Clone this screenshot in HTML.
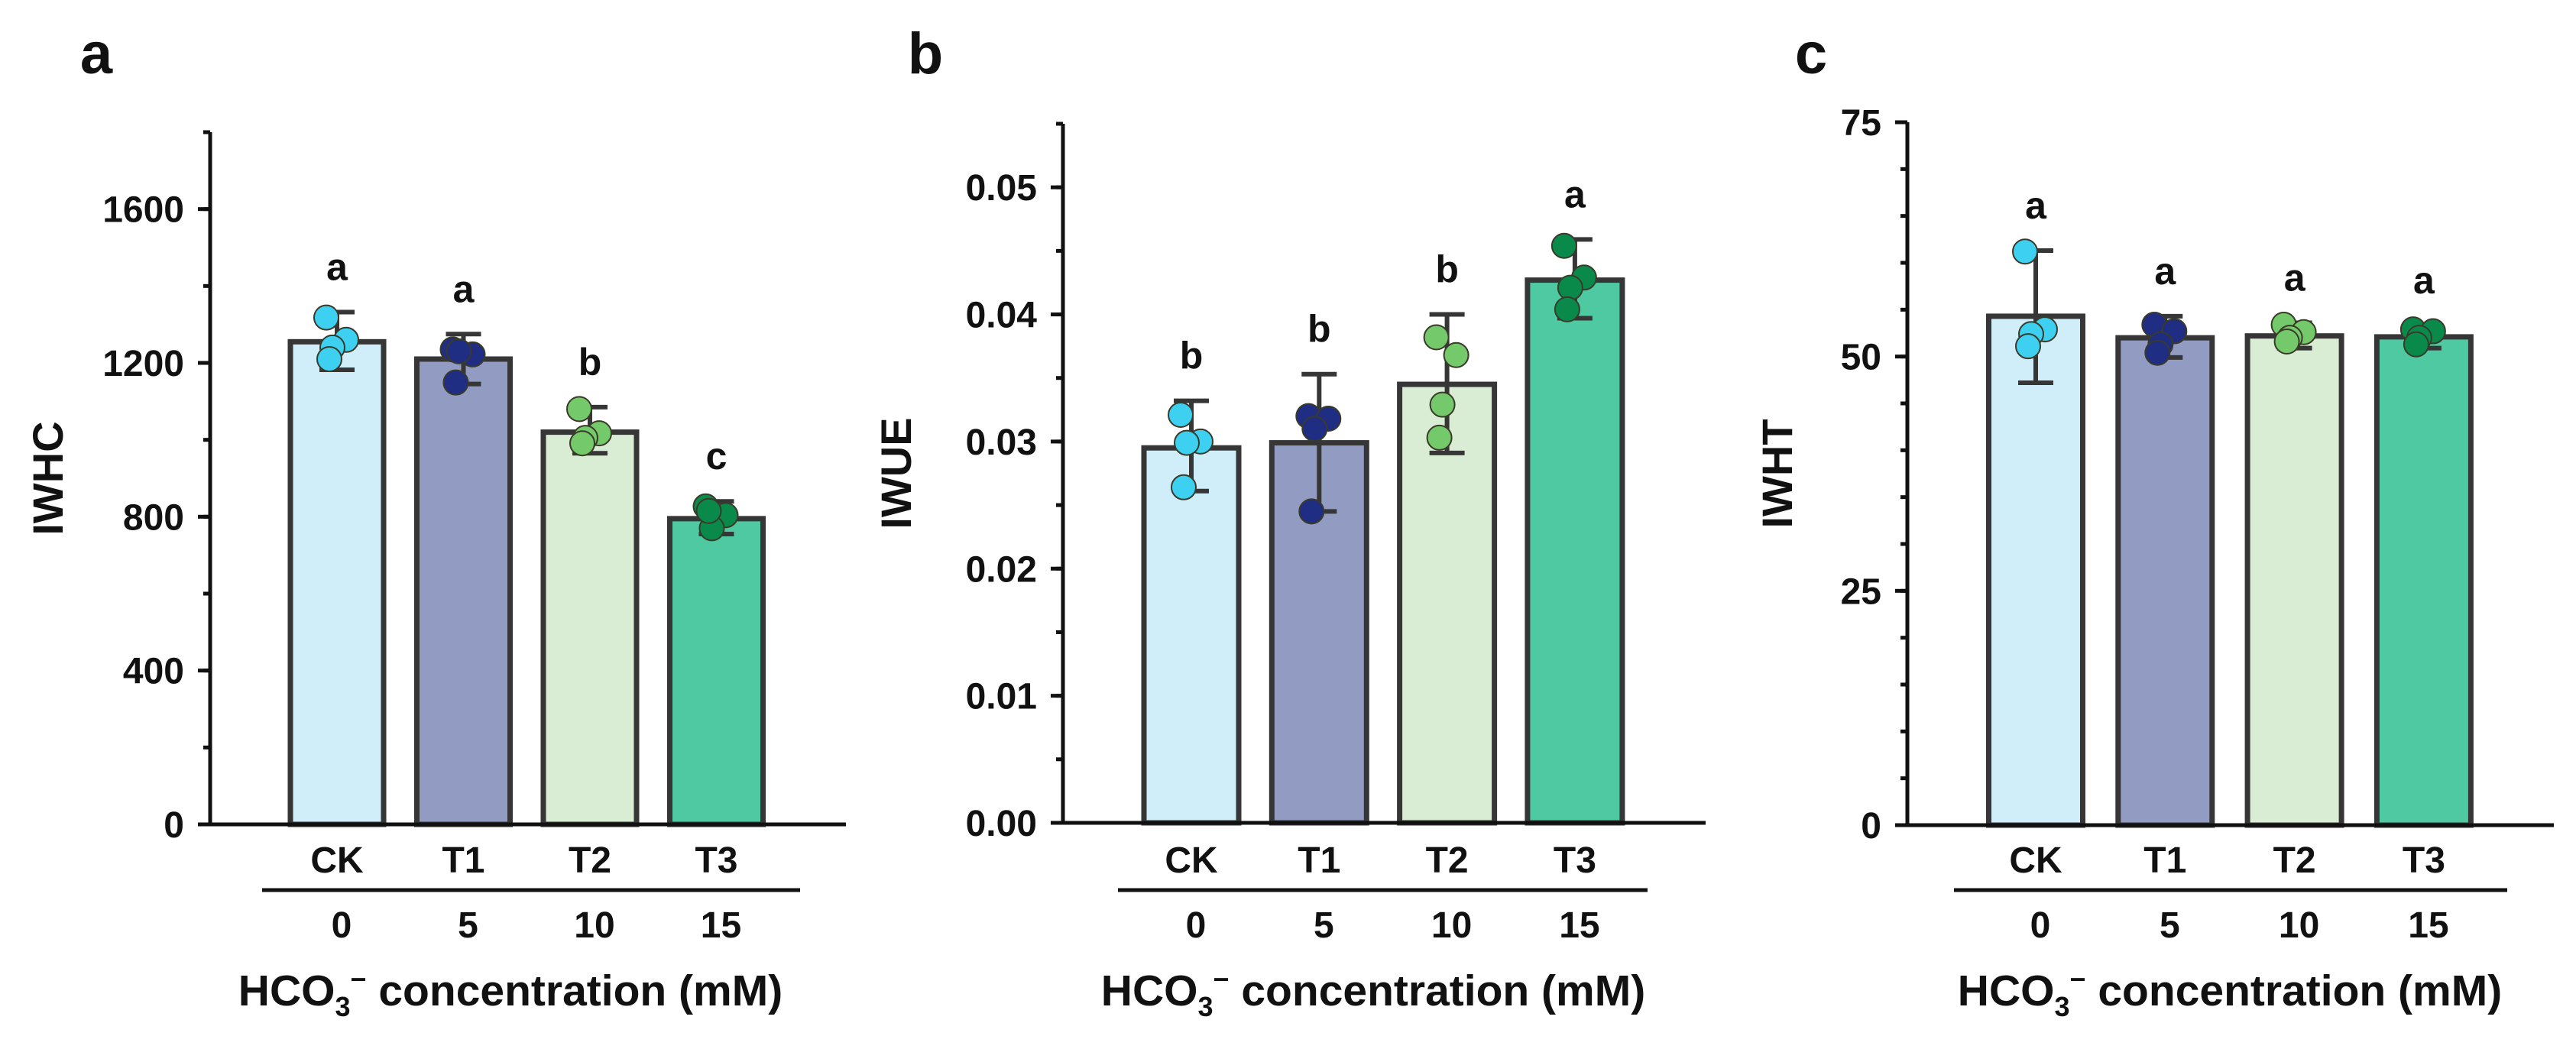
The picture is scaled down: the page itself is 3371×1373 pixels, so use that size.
<!DOCTYPE html>
<html><head><meta charset="utf-8">
<style>
html,body{margin:0;padding:0;background:#fff;}
svg{display:block;}
text{font-family:"Liberation Sans",Arial,sans-serif;font-weight:bold;fill:#111;}
</style></head>
<body>
<svg id="fig" width="3371" height="1373" viewBox="0 0 3371 1373" xmlns="http://www.w3.org/2000/svg"></svg>
<script>
const categories = ["CK","T1","T2","T3"];
const concentrations = ["0","5","10","15"];
const fills = ["#cfeefa","#929bc2","#d8edd3","#4ec9a2"];
const dotColors = ["#3dd0f0","#1f2d82","#74c96a","#0a8a4a"];

const iwhcMeans = [1255,1210,1020,795];
const iwhcErrLo = [1182,1145,965,755];
const iwhcErrHi = [1332,1275,1085,840];
const iwhcPoints = [[1318,1260,1240,1210],[1235,1222,1230,1149],[1080,1017,1005,991],[827,804,770,815]];
const iwhcLetters = ["a","a","b","c"];
const iwhcTicks = [0,400,800,1200,1600];

const iwueMeans = [0.0295,0.0299,0.0345,0.0427];
const iwueErrLo = [0.0261,0.0245,0.0291,0.0397];
const iwueErrHi = [0.0332,0.0353,0.0400,0.0459];
const iwuePoints = [[0.0321,0.0300,0.0299,0.0264],[0.0320,0.0318,0.0310,0.0245],[0.0382,0.0368,0.0329,0.0303],[0.0454,0.0429,0.0421,0.0404]];
const iwueLetters = ["b","b","b","a"];
const iwueTicks = [0,0.01,0.02,0.03,0.04,0.05];
const iwueTickLabels = ["0.00","0.01","0.02","0.03","0.04","0.05"];

const iwhtMeans = [54.3,52.0,52.2,52.1];
const iwhtErrLo = [47.2,49.9,50.9,50.9];
const iwhtErrHi = [61.3,54.3,53.6,53.3];
const iwhtPoints = [[61.2,52.9,52.4,51.1],[53.4,52.7,51.3,50.4],[53.4,52.6,52.0,51.6],[52.9,52.7,52.0,51.3]];
const iwhtLetters = ["a","a","a","a"];
const iwhtTicks = [0,25,50,75];

const NS="http://www.w3.org/2000/svg";
const svg=document.getElementById('fig');
function mk(tag,attrs,parent){const e=document.createElementNS(NS,tag);for(const k in attrs)e.setAttribute(k,attrs[k]);(parent||svg).appendChild(e);return e;}
function txt(x,y,s,size,anchor,parent){const e=mk('text',{x:x,y:y,'font-size':size,'text-anchor':anchor||'middle'},parent);e.textContent=s;return e;}

const dotOffsets=[-14,12,-6,-10];
function panel(cfg){
  const g=mk('g',{});
  
  
  const y=v=>cfg.base-(v-0)/(cfg.max)*(cfg.base-cfg.top);
  const pl=txt(cfg.letterX,96,cfg.letter,76,'middle',g);
  
  
  categories.forEach((c,i)=>{
    const cx=cfg.bar0+i*cfg.step, w=cfg.barW;
    const b=mk('rect',{x:cx-w/2,y:y(cfg.means[i]),width:w,height:cfg.base-y(cfg.means[i]),fill:fills[i],stroke:'#363636','stroke-width':7},g);
    
    
    const eb=mk('g',{stroke:'#363636','stroke-width':6,fill:'none'},g);
    
    
    mk('line',{x1:cx,x2:cx,y1:y(cfg.lo[i]),y2:y(cfg.hi[i])},eb);
    mk('line',{x1:cx-23,x2:cx+23,y1:y(cfg.lo[i]),y2:y(cfg.lo[i])},eb);
    mk('line',{x1:cx-23,x2:cx+23,y1:y(cfg.hi[i]),y2:y(cfg.hi[i])},eb);
    cfg.pts[i].forEach((v,j)=>{
      const d=mk('circle',{cx:cx+dotOffsets[j],cy:y(v),r:16,fill:dotColors[i],stroke:'#3a3a2a','stroke-width':2},g);
      
      
    });
    const lt=txt(cx,y(cfg.hi[i])-42,cfg.letters[i],50,'middle',g);
    
    
    const cl=txt(cx,1142,c,48,'middle',g);
    
    
    const nl=txt(cx+6,1227,concentrations[i],48,'middle',g);
    
    
  });
  const ax=mk('g',{stroke:'#111','stroke-width':5},g);
  
  
  mk('line',{x1:cfg.ax,x2:cfg.ax,y1:cfg.top,y2:cfg.base+2},ax);
  mk('line',{x1:cfg.ax-16,x2:cfg.xEnd,y1:cfg.base,y2:cfg.base},ax);
  for(let v=0;v<=cfg.max+1e-9;v+=cfg.minor){
    const yy=y(v);
    mk('line',{x1:cfg.ax-9,x2:cfg.ax,y1:yy,y2:yy},ax);
  }
  cfg.ticks.forEach((t,k)=>{
    mk('line',{x1:cfg.ax-16,x2:cfg.ax,y1:y(t),y2:y(t)},ax);
    const tl=txt(cfg.ax-34,y(t)+17,cfg.tickLabels?cfg.tickLabels[k]:String(t),48,'end',g);
    
    
  });
  const gl=mk('line',{x1:cfg.lineX1,x2:cfg.lineX2,y1:1165,y2:1165,stroke:'#111','stroke-width':5},g);
  
  
  const yt=mk('text',{transform:`translate(${cfg.yTitleX},${(cfg.top+cfg.base)/2}) rotate(-90)`,'font-size':56,'text-anchor':'middle'},g);
  yt.textContent=cfg.ytitle;
  
  
  const xt=mk('text',{x:cfg.xTitleX,y:1316,'font-size':57,'text-anchor':'middle'},g);
  
  
  xt.innerHTML='HCO<tspan font-size="36" dy="14">3</tspan><tspan font-size="36" dy="-36">−</tspan><tspan dy="22"> concentration (mM)</tspan>';
}

panel({name:'panel-a-iwhc',letter:'a',letterX:126,ax:275,top:173,base:1079,max:1800,minor:200,ticks:iwhcTicks,
  means:iwhcMeans,lo:iwhcErrLo,hi:iwhcErrHi,pts:iwhcPoints,letters:iwhcLetters,
  bar0:441,step:165.5,barW:122,xEnd:1107,lineX1:343,lineX2:1047,ytitle:'IWHC',yTitleX:82,xTitleX:668});
panel({name:'panel-b-iwue',letter:'b',letterX:1211,ax:1391,top:162,base:1077,max:0.055,minor:0.005,ticks:iwueTicks,tickLabels:iwueTickLabels,
  means:iwueMeans,lo:iwueErrLo,hi:iwueErrHi,pts:iwuePoints,letters:iwueLetters,
  bar0:1559,step:167.3,barW:124,xEnd:2232,lineX1:1463,lineX2:2156,ytitle:'IWUE',yTitleX:1192,xTitleX:1797});
panel({name:'panel-c-iwht',letter:'c',letterX:2370,ax:2496,top:160,base:1080,max:75,minor:5,ticks:iwhtTicks,
  means:iwhtMeans,lo:iwhtErrLo,hi:iwhtErrHi,pts:iwhtPoints,letters:iwhtLetters,
  bar0:2664,step:169.3,barW:123,xEnd:3342,lineX1:2557,lineX2:3281,ytitle:'IWHT',yTitleX:2345,xTitleX:2918});
</script>
</body></html>
